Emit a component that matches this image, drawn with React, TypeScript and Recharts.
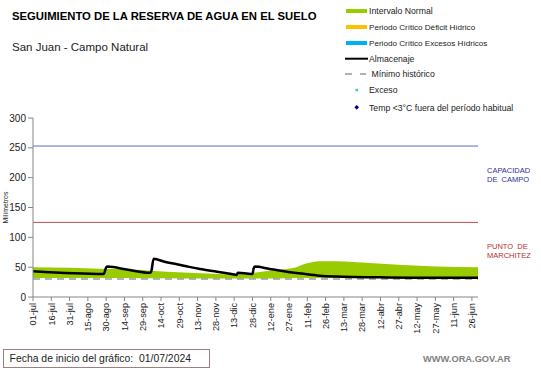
import React from 'react';
import { ComposedChart, Area, Line, XAxis, YAxis, ReferenceLine } from 'recharts';

// ---- Data ----
const tickDays = [0, 15, 30, 45, 60, 75, 90, 105, 120, 135, 150, 165, 180, 195, 210, 225, 240, 255, 270, 285, 300, 315, 330, 345, 360];
const tickLabels = ['01-jul', '16-jul', '31-jul', '15-ago', '30-ago', '14-sep', '29-sep', '14-oct', '29-oct', '13-nov', '28-nov', '13-dic', '28-dic', '12-ene', '27-ene', '11-feb', '26-feb', '13-mar', '28-mar', '12-abr', '27-abr', '12-may', '27-may', '11-jun', '26-jun'];

// Intervalo normal (banda verde)
const bandDays = [0, 30, 55, 82, 96, 110, 137, 164, 178, 194, 208, 216, 224, 235, 249, 276, 303, 331, 365];
const bandLow = [32, 32, 32, 32, 31.5, 31.5, 31, 31, 31, 31, 31.5, 32, 32, 32, 32, 32, 32, 32, 32];
const bandHigh = [50, 49, 47.5, 46, 44, 42.5, 40, 38, 40, 44, 47, 50, 56, 60, 60, 57, 53.5, 51, 50];

// Almacenaje
const almDays = [0, 58, 60, 61, 78, 96, 97, 99, 108, 118, 128, 137, 151, 164, 167, 168, 175, 180, 181, 182, 194, 208, 222, 235, 249, 263, 290, 320, 365];
const almValues = [43, 38.5, 49.5, 51, 45.5, 40.5, 43, 64, 59, 55, 50.5, 47, 42.4, 38, 37, 40.5, 39.5, 38.5, 48, 51, 47, 42.5, 38.8, 35.8, 34.3, 33.5, 32.8, 32.4, 32.3];

const capacidadCampo = 253;
const puntoMarchitez = 125;
const minimoHistorico = 30;
const yTicks = [0, 50, 100, 150, 200, 250, 300];

const bandData = bandDays.map((d, i) => ({ day: d, band: [bandLow[i], bandHigh[i]] }));
const almData = almDays.map((d, i) => ({ day: d, alm: almValues[i] }));

const FONT = '"Liberation Sans", Arial, sans-serif';

const XTick = (props: any) => {
  const { x, y, payload } = props;
  const idx = tickDays.indexOf(payload.value);
  const label = idx >= 0 ? tickLabels[idx] : '';
  return (
    <text
      x={x}
      y={y}
      transform={`rotate(-90, ${x}, ${y})`}
      textAnchor="end"
      dy="0.35em"
      fontSize={9.2}
      fill="#222"
      fontFamily={FONT}
    >
      {label}
    </text>
  );
};

export default function App() {
  return (
    <div style={{ position: 'absolute', left: 0, top: 0, width: 541, height: 368, background: '#fff', fontFamily: FONT }}>
      <ComposedChart
        width={541}
        height={368}
        data={bandData}
        margin={{ top: 118, right: 63, bottom: 21, left: 5 }}
      >
        <XAxis
          dataKey="day"
          type="number"
          domain={[0, 365]}
          ticks={tickDays}
          interval={0}
          tick={<XTick />}
          tickSize={4}
          tickMargin={2}
          height={50}
          stroke="#868686"
          allowDataOverflow
        />
        <YAxis
          domain={[0, 300]}
          ticks={yTicks}
          width={28}
          tickSize={5}
          tickMargin={2}
          stroke="#868686"
          tick={{ fontSize: 10, fill: '#222', fontFamily: FONT }}
          allowDataOverflow
        />
        <Area
          dataKey="band"
          type="monotone"
          stroke="none"
          fill="#99cc00"
          fillOpacity={1}
          isAnimationActive={false}
        />
        <ReferenceLine y={capacidadCampo} stroke="#5b6dc2" strokeWidth={1} />
        <ReferenceLine y={puntoMarchitez} stroke="#c0504d" strokeWidth={1} />
        <ReferenceLine y={minimoHistorico} stroke="#9a9a9a" strokeWidth={1.5} strokeDasharray="7 5" />
        <Line
          data={almData}
          dataKey="alm"
          type="monotone"
          stroke="#000"
          strokeWidth={2.5}
          dot={false}
          isAnimationActive={false}
        />
      </ComposedChart>

      <svg width={541} height={368} style={{ position: 'absolute', left: 0, top: 0, pointerEvents: 'none' }}>
        {/* Title */}
        <text x={12} y={20} fontSize={11.3} fontWeight="bold" fill="#000" fontFamily={FONT}>
          SEGUIMIENTO DE LA RESERVA DE AGUA EN EL SUELO
        </text>
        <text x={12} y={50.5} fontSize={11.5} fill="#222" fontFamily={FONT}>
          San Juan - Campo Natural
        </text>

        {/* Y axis title */}
        <text x={7.5} y={207.5} transform="rotate(-90, 7.5, 207.5)" textAnchor="middle" fontSize={6.9} fill="#222" fontFamily={FONT}>
          Milímetros
        </text>

        {/* Legend */}
        <rect x={346} y={9} width={21} height={4} fill="#99cc00" />
        <text x={369} y={14} fontSize={8.7} fill="#222" fontFamily={FONT}>Intervalo Normal</text>
        <rect x={346} y={25} width={21} height={4} fill="#ffc000" />
        <text x={369} y={30} fontSize={8.1} fill="#222" fontFamily={FONT}>Periodo Crítico Déficit Hídrico</text>
        <rect x={346} y={41} width={21} height={4} fill="#00b0f0" />
        <text x={369} y={46} fontSize={8.1} fill="#222" fontFamily={FONT}>Periodo Crítico Excesos Hídricos</text>
        <line x1={345} x2={368} y1={58.7} y2={58.7} stroke="#000" strokeWidth={2} />
        <text x={369} y={62} fontSize={8.7} fill="#222" fontFamily={FONT}>Almacenaje</text>
        <line x1={345} x2={352} y1={74} y2={74} stroke="#9a9a9a" strokeWidth={1.5} />
        <line x1={360} x2={366} y1={74} y2={74} stroke="#9a9a9a" strokeWidth={1.5} />
        <text x={371.5} y={77.3} fontSize={8.7} fill="#222" fontFamily={FONT}>Mínimo histórico</text>
        <rect x={355.5} y={88.8} width={2.5} height={2.5} fill="#33cccc" />
        <text x={369} y={93.3} fontSize={8.7} fill="#222" fontFamily={FONT}>Exceso</text>
        <polygon points="356.7,104.9 359,107.3 356.7,109.7 354.4,107.3" fill="#000099" />
        <text x={369} y={110.6} fontSize={8.7} fill="#222" fontFamily={FONT}>Temp &lt;3°C fuera del período habitual</text>

        {/* Right labels */}
        <text x={487} y={173.3} fontSize={7.5} fill="#2e2e9a" fontFamily={FONT}>CAPACIDAD</text>
        <text x={487} y={181.7} fontSize={7.5} fill="#2e2e9a" fontFamily={FONT} style={{ whiteSpace: 'pre' }}>DE  CAMPO</text>
        <text x={487} y={249.3} fontSize={7.5} fill="#bb2d2d" fontFamily={FONT} style={{ whiteSpace: 'pre' }}>PUNTO  DE</text>
        <text x={487} y={258.3} fontSize={7.5} fill="#bb2d2d" fontFamily={FONT}>MARCHITEZ</text>

        {/* Footer */}
        <rect x={3.5} y={349.5} width={206} height={18} fill="none" stroke="#9c7f7f" strokeWidth={1} />
        <text x={9.6} y={362} fontSize={10.4} fill="#222" fontFamily={FONT} style={{ whiteSpace: 'pre' }}>
          Fecha de inicio del gráfico:  01/07/2024
        </text>
        <text x={423} y={361.5} fontSize={9.3} fontWeight="bold" fill="#808080" fontFamily={FONT}>
          WWW.ORA.GOV.AR
        </text>
      </svg>
    </div>
  );
}
